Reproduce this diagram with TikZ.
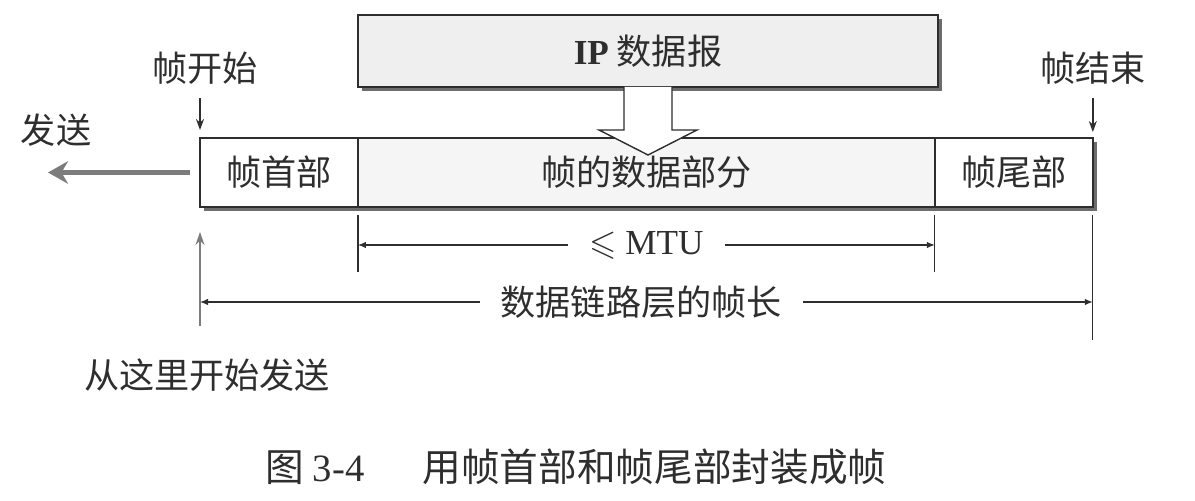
\documentclass[tikz,border=0pt]{standalone}
\usepackage{fontspec}
\usepackage{amssymb}
\setmainfont{Liberation Serif}
\newfontfamily\cjk{Noto Sans CJK SC}
\usetikzlibrary{positioning, arrows.meta, shadows, calc}
\definecolor{inkgray}{HTML}{2E2E2E}
\definecolor{sendgray}{HTML}{7C7C7C}
\definecolor{ipfill}{HTML}{EFEFEF}
\definecolor{datafill}{HTML}{F5F5F5}

\begin{document}
\begin{tikzpicture}[
    x=0.02cm, y=-0.02cm,
    every node/.style={font=\fontsize{20}{24}\selectfont\cjk, text=inkgray},
    boxshadow/.style={drop shadow={shadow xshift=2.2pt, shadow yshift=-2.2pt, fill=inkgray!70, opacity=1}},
    part/.style={draw=inkgray, line width=0.8pt, minimum height=1.38cm, inner sep=0pt, outer sep=0pt, fill=white, boxshadow},
    ipbox/.style={part, minimum width=11.6cm, minimum height=1.44cm, fill=ipfill},
    hollow/.style={draw=inkgray, line width=0.8pt, fill=white, line join=miter},
    pointer/.style={-{Stealth[length=2.2mm, width=1.6mm]}, line width=0.8pt, draw=inkgray},
    sendarrow/.style={-{Stealth[length=4mm, width=4.5mm]}, line width=3.4pt, draw=sendgray},
    uparrow/.style={-{Stealth[length=2.6mm, width=1.8mm]}, line width=1pt, draw=sendgray},
    dim/.style={{Latex[length=1.6mm, width=1.3mm]}-{Latex[length=1.6mm, width=1.3mm]}, line width=0.7pt, draw=inkgray},
    tick/.style={line width=0.7pt, draw=inkgray},
    gap/.style={fill=white, inner xsep=12pt, inner ysep=1pt}
]
    \useasboundingbox (0,0) rectangle (1195,500);

    % the frame: header, data part, trailer
    \node[part, minimum width=3.16cm, anchor=west] (head) at (200,172.5) {帧首部};
    \node[part, minimum width=11.54cm, fill=datafill, right=0pt of head] (data) {帧的数据部分};
    \node[part, minimum width=3.16cm, right=0pt of data] (tail) {帧尾部};

    % IP datagram put into the data part
    \node[ipbox] (ip) at (648,51) {{\rmfamily\bfseries IP} 数据报};
    \draw[hollow] ($(ip.south)+(-24,0)$) -- ++(0,43) -- ++(-25,0)
        -- ($(ip.south)+(0,68)$) -- ($(ip.south)+(49,43)$) -- ++(-25,0) -- ++(0,-43);

    % start and end of the frame
    \node (fstart) at (205,68) {帧开始};
    \node (fend) at (1093,68) {帧结束};
    \draw[pointer] (fstart.south -| head.north west) ++(0,8) -- ($(head.north west)+(0,-8)$);
    \draw[pointer] (fend.south -| tail.north east) ++(0,8) -- ($(tail.north east)+(0,-6)$);

    % sending direction
    \node (send) at (56,130) {发送};
    \coordinate (sendtip) at (48,172.5);
    \draw[sendarrow] ($(head.west)+(-10,0)$) -- (sendtip);
    \node (startsend) at (207,375) {从这里开始发送};
    \draw[uparrow] (startsend.north -| head.south west) ++(0,-26) -- ($(head.south west)+(0,25)$);

    % lengths
    \draw[tick] ($(data.south west)+(0,8)$) -- ++(0,57);
    \draw[tick] ($(data.south east)+(0,8)$) -- ++(0,57);
    \draw[tick] ($(tail.south east)+(0,8)$) -- ++(0,125);
    \coordinate (mtuL) at ($(data.south west)+(0,38)$);
    \coordinate (mtuR) at ($(data.south east)+(0,38)$);
    \draw[dim] (mtuL) -- node[gap, font=\fontsize{20}{24}\selectfont\rmfamily] {$\leqslant$ MTU} (mtuR);
    \coordinate (lenL) at ($(head.south west)+(0,95)$);
    \coordinate (lenR) at ($(tail.south east)+(0,95)$);
    \draw[dim] (lenL) -- node[gap, xshift=-3pt] {数据链路层的帧长} (lenR);

    % caption
    \node[font=\fontsize{22}{26}\selectfont\cjk] (caption) at (576,467) {图 {\rmfamily 3-4}\quad\enspace 用帧首部和帧尾部封装成帧};
\end{tikzpicture}
\end{document}
